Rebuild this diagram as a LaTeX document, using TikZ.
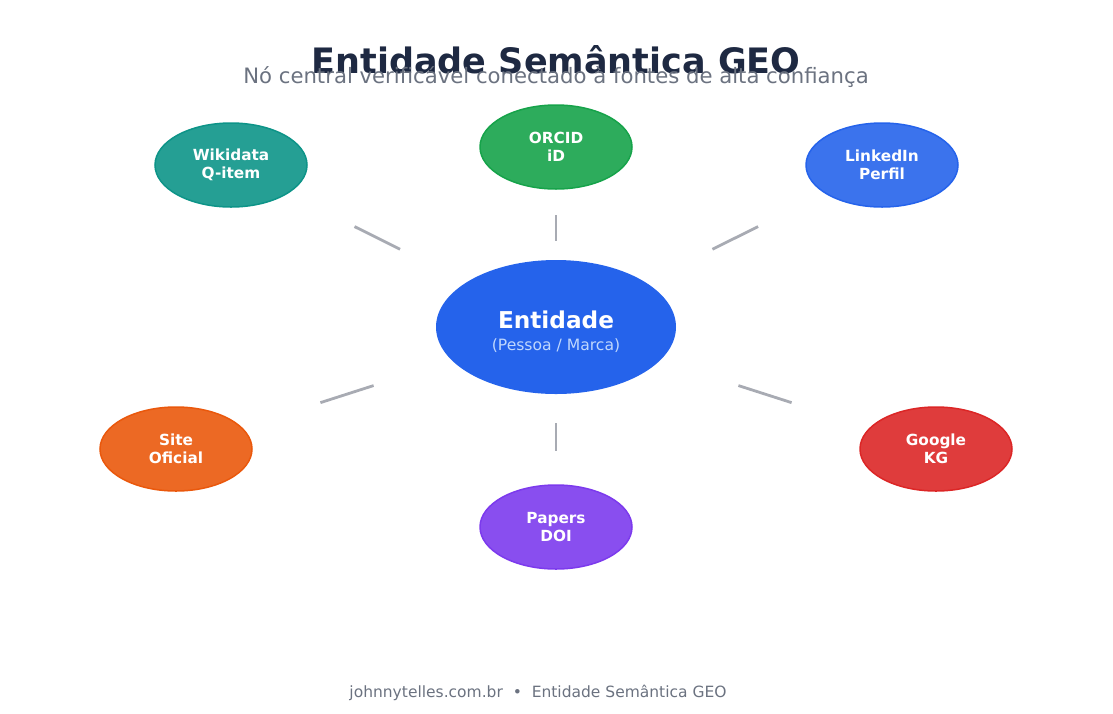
\documentclass[tikz,border=0pt]{standalone}
\usepackage{fontspec}
\setmainfont{DejaVu Sans}
\usetikzlibrary{shapes.geometric,calc}

\definecolor{titlenavy}{HTML}{1E2942}
\definecolor{mutedgrey}{HTML}{6B7280}
\definecolor{linkgrey}{HTML}{A8ABB3}
\definecolor{entblue}{HTML}{2563EB}
\definecolor{entsub}{HTML}{BFD7FD}
\definecolor{tealc}{HTML}{0D9488}
\definecolor{greenc}{HTML}{16A34A}
\definecolor{bluec}{HTML}{2563EB}
\definecolor{orangec}{HTML}{EA580C}
\definecolor{redc}{HTML}{DC2626}
\definecolor{purplec}{HTML}{7C3AED}

\begin{document}
\begin{tikzpicture}[x=1pt, y=-1pt,
  source/.style={ellipse, draw=#1, fill=#1!90!white, line width=1.5pt,
    minimum width=152pt, minimum height=84pt, inner sep=0pt,
    align=center, text=white, font=\fontsize{15.3}{18.5}\selectfont\bfseries},
  link/.style={draw=linkgrey, line width=2.8pt}]
\useasboundingbox (0,0) rectangle (1113,713);

% titulo
\node (title) [anchor=base, text=titlenavy, font=\fontsize{35}{40}\selectfont\bfseries]
  at (556,73) {Entidade Semântica GEO};
\node (subtitle) [anchor=base, text=mutedgrey, font=\fontsize{21.2}{24}\selectfont]
  at (556,83) {Nó central verificável conectado à fontes de alta confiança};

% no central
\node (ent) [ellipse, fill=entblue, minimum width=240pt, minimum height=134pt, inner sep=0pt, align=center]
  at (556,327) {\rule{0pt}{27pt}{\fontsize{23.2}{26}\selectfont\bfseries\color{white}Entidade}\\[9pt]
  {\fontsize{15.6}{18}\selectfont\color{entsub}(Pessoa / Marca)}};

% fontes
\node (wiki) [source=tealc] at (231,165) {Wikidata\\Q-item};
\node (orcid) [source=greenc] at (556,147) {ORCID\\iD};
\node (linkedin) [source=bluec] at (882,165) {LinkedIn\\Perfil};
\node (site) [source=orangec] at (176,449) {Site\\Oficial};
\node (google) [source=redc] at (936,449) {Google\\KG};
\node (papers) [source=purplec] at (556,527) {Papers\\DOI};

% ligacoes
\foreach \n in {wiki,orcid,linkedin,site,google,papers}
  \draw [link] ($(ent)!0.48!(\n)$) -- ($(ent)!0.62!(\n)$);

% rodape
\node (footer) [anchor=base, text=mutedgrey, font=\fontsize{15.5}{18}\selectfont]
  at (538,697) {johnnytelles.com.br \ \textbullet\ \ Entidade Semântica GEO};
\end{tikzpicture}
\end{document}
